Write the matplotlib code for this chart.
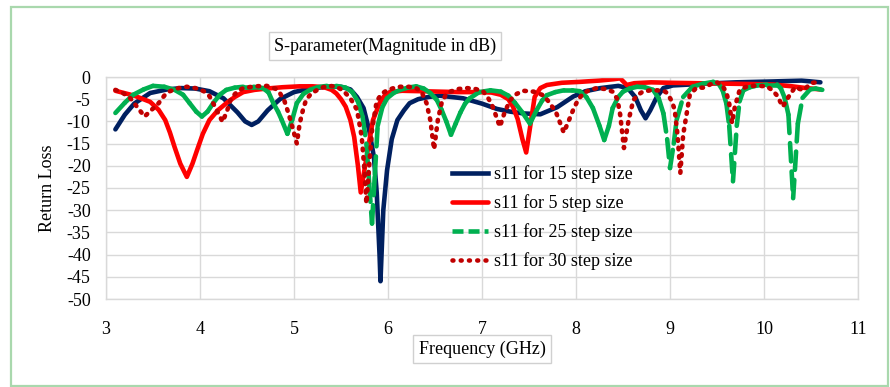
import matplotlib
matplotlib.use("Agg")
import matplotlib.pyplot as plt
from matplotlib.collections import LineCollection
from matplotlib.lines import Line2D
from matplotlib.patches import Rectangle
import numpy as np

plt.rcParams["font.family"] = ["Liberation Serif", "DejaVu Serif"]
plt.rcParams["axes.unicode_minus"] = False

# s11 for 15 step size
BLUE_F = [3.10, 3.20, 3.30, 3.47, 3.65, 3.80, 3.95, 4.10, 4.25, 4.40, 4.48, 4.55,
          4.62, 4.72, 4.85, 5.00, 5.17, 5.35, 5.50, 5.60, 5.67, 5.74, 5.80, 5.85,
          5.88, 5.91, 5.92, 5.935, 5.95, 5.99, 6.04, 6.10, 6.17, 6.23, 6.32, 6.43,
          6.55, 6.80, 7.00, 7.16, 7.30, 7.44, 7.62, 7.80, 7.97, 8.10, 8.26, 8.45,
          8.55, 8.63, 8.69, 8.74, 8.79, 8.86, 8.93, 9.03, 9.38, 9.70, 10.10, 10.40,
          10.60]
BLUE_DB = [-11.8, -8.5, -6.0, -3.6, -2.8, -2.5, -2.6, -3.2, -4.8, -8.0, -10.0, -10.8,
           -10.0, -7.5, -5.0, -3.4, -2.6, -2.2, -2.2, -2.8, -4.5, -7.0, -12.0, -18.0,
           -26.0, -40.0, -46.0, -38.0, -30.0, -21.0, -14.0, -9.7, -7.5, -5.9, -5.0, -4.5,
           -4.2, -4.8, -6.0, -7.2, -7.8, -8.2, -8.4, -6.8, -4.4, -3.2, -2.5, -2.0,
           -2.5, -4.5, -7.5, -9.3, -7.5, -4.5, -2.5, -1.9, -1.5, -1.2, -1.0, -0.8,
           -1.2]

# s11 for 5 step size
RED_F = [3.10, 3.30, 3.47, 3.56, 3.63, 3.68, 3.73, 3.79, 3.86, 3.92, 3.97, 4.03,
         4.10, 4.19, 4.28, 4.37, 4.46, 4.58, 4.71, 4.88, 5.06, 5.20, 5.32, 5.40,
         5.45, 5.50, 5.55, 5.60, 5.64, 5.68, 5.71, 5.745, 5.78, 5.84, 5.91, 5.96,
         6.02, 6.15, 6.35, 6.55, 6.75, 6.95, 7.10, 7.20, 7.28, 7.33, 7.38, 7.43,
         7.47, 7.51, 7.56, 7.62, 7.69, 7.85, 8.04, 8.25, 8.40, 8.47, 8.54, 8.62,
         8.80, 9.00, 9.30, 9.60, 9.90, 10.10, 10.30, 10.45, 10.60]
RED_DB = [-3.1, -4.2, -5.6, -7.4, -9.7, -12.5, -15.8, -19.5, -22.5, -19.5, -16.4, -12.8,
          -9.7, -7.5, -5.9, -4.5, -3.4, -2.9, -2.6, -2.3, -2.1, -2.1, -2.3, -2.9,
          -3.7, -5.0, -6.7, -9.7, -13.5, -20.0, -26.0, -21.5, -17.0, -9.7, -5.9, -4.3,
          -3.4, -3.1, -3.2, -3.3, -3.4, -3.4, -3.5, -4.0, -5.0, -6.7, -9.5, -14.0,
          -17.0, -11.5, -4.5, -2.5, -1.8, -1.3, -1.1, -0.8, -0.5, -0.3, -1.8, -1.4,
          -1.2, -1.3, -1.4, -1.5, -1.6, -1.7, -2.1, -2.5, -2.8]

# s11 for 25 step size
GREEN_F = [3.10, 3.20, 3.29, 3.40, 3.50, 3.62, 3.73, 3.82, 3.89, 3.96, 4.02, 4.08,
           4.14, 4.21, 4.28, 4.37, 4.46, 4.57, 4.67, 4.73, 4.78, 4.83, 4.87, 4.93,
           4.98, 5.03, 5.10, 5.17, 5.25, 5.35, 5.45, 5.55, 5.62, 5.68, 5.73, 5.77,
           5.80, 5.83, 5.86, 5.89, 5.94, 5.99, 6.06, 6.13, 6.21, 6.30, 6.38, 6.45,
           6.52, 6.57, 6.62, 6.67, 6.72, 6.77, 6.82, 6.87, 6.97, 7.09, 7.20, 7.28,
           7.35, 7.43, 7.51, 7.58, 7.64, 7.69, 7.78, 7.87, 7.96, 8.04, 8.11, 8.18,
           8.25, 8.30, 8.35, 8.39, 8.45, 8.50, 8.57, 8.65, 8.73, 8.82, 8.88, 8.93,
           8.97, 9.00, 9.04, 9.07, 9.14, 9.24, 9.35, 9.46, 9.52, 9.56, 9.60, 9.63,
           9.67, 9.71, 9.74, 9.78, 9.85, 9.93, 10.03, 10.14, 10.18, 10.22, 10.26, 10.31,
           10.36, 10.41, 10.49, 10.55, 10.62]
GREEN_DB = [-8.1, -5.8, -4.0, -2.8, -2.0, -2.2, -2.9, -4.0, -5.9, -7.8, -8.9, -7.8,
            -5.9, -4.0, -2.9, -2.4, -2.2, -2.2, -2.5, -3.5, -5.9, -7.8, -9.7, -12.8,
            -9.7, -5.9, -3.8, -2.9, -2.3, -2.0, -2.0, -2.4, -3.4, -5.5, -9.0, -15.0,
            -24.0, -33.0, -22.0, -11.0, -6.8, -4.8, -3.6, -2.9, -2.4, -2.1, -2.6, -3.6,
            -5.2, -7.4, -10.0, -13.0, -10.5, -8.0, -6.0, -4.8, -3.4, -3.0, -3.3, -4.2,
            -5.8, -8.0, -10.5, -7.5, -5.3, -4.1, -3.4, -3.0, -3.0, -3.2, -4.5, -7.0,
            -11.0, -14.2, -11.0, -7.0, -4.5, -3.3, -2.6, -2.2, -2.3, -2.9, -4.8, -8.2,
            -14.0, -20.5, -15.0, -9.7, -4.5, -2.2, -1.5, -1.1, -1.6, -3.0, -6.0, -11.0,
            -23.5, -11.0, -5.5, -3.0, -2.3, -1.9, -1.7, -1.7, -2.6, -4.7, -8.5, -27.3,
            -10.5, -4.7, -2.8, -2.6, -2.9]

# s11 for 30 step size
DRED_F = [3.10, 3.18, 3.26, 3.34, 3.41, 3.48, 3.56, 3.62, 3.68, 3.77, 3.86, 3.95,
          4.04, 4.10, 4.14, 4.19, 4.24, 4.29, 4.33, 4.40, 4.46, 4.58, 4.71, 4.80,
          4.85, 4.90, 4.94, 4.99, 5.03, 5.06, 5.10, 5.13, 5.18, 5.24, 5.31, 5.38,
          5.45, 5.52, 5.60, 5.67, 5.72, 5.75, 5.77, 5.80, 5.83, 5.86, 5.88, 5.93,
          5.99, 6.06, 6.13, 6.22, 6.30, 6.36, 6.41, 6.45, 6.49, 6.53, 6.57, 6.61,
          6.66, 6.75, 6.84, 6.93, 7.01, 7.06, 7.11, 7.15, 7.19, 7.24, 7.30, 7.37,
          7.44, 7.55, 7.65, 7.72, 7.79, 7.87, 7.92, 7.97, 8.02, 8.08, 8.15, 8.22,
          8.31, 8.39, 8.44, 8.47, 8.51, 8.56, 8.61, 8.66, 8.71, 8.79, 8.86, 8.93,
          8.97, 9.02, 9.05, 9.08, 9.11, 9.14, 9.18, 9.21, 9.28, 9.35, 9.40, 9.45,
          9.50, 9.56, 9.60, 9.63, 9.66, 9.69, 9.74, 9.80, 9.85, 9.95, 10.03, 10.09,
          10.14, 10.20, 10.26, 10.33, 10.38, 10.42, 10.47, 10.52, 10.56, 10.60]
DRED_DB = [-2.9, -3.6, -4.8, -7.0, -8.9, -7.5, -5.9, -4.2, -3.2, -2.5, -2.2, -2.5,
           -3.2, -4.3, -5.9, -8.0, -10.1, -7.5, -4.8, -3.2, -2.5, -2.1, -2.0, -2.6,
           -3.6, -5.5, -8.1, -11.8, -15.0, -10.5, -7.0, -5.1, -3.8, -3.0, -2.3, -2.0,
           -2.2, -3.0, -4.8, -7.4, -13.4, -21.0, -28.5, -20.0, -12.0, -8.0, -5.5, -3.8,
           -3.0, -2.5, -2.2, -2.2, -2.5, -3.5, -5.9, -9.7, -16.3, -9.7, -5.9, -4.2,
           -3.3, -2.7, -2.5, -2.7, -3.2, -4.5, -6.5, -8.8, -11.2, -8.0, -5.2, -3.8,
           -3.1, -3.3, -4.1, -5.8, -8.1, -12.5, -10.0, -7.4, -5.2, -3.6, -2.9, -2.5,
           -2.7, -3.3, -5.0, -8.5, -16.0, -9.7, -5.2, -4.0, -3.3, -3.0, -3.0, -3.1,
           -3.6, -5.5, -7.4, -13.0, -21.6, -13.0, -7.9, -4.1, -2.4, -2.4, -2.0, -1.4,
           -1.2, -2.0, -3.5, -6.0, -10.4, -6.7, -3.0, -2.3, -2.0, -2.0, -2.1, -3.0,
           -4.2, -6.7, -4.5, -2.3, -2.7, -3.0, -2.0, -1.3, -1.2, -1.8]

LABELS = ["s11 for 15 step size", "s11 for 5 step size",
          "s11 for 25 step size", "s11 for 30 step size"]
X_TICKS = [3, 4, 5, 6, 7, 8, 9, 10, 11]
Y_TICKS = [0, -5, -10, -15, -20, -25, -30, -35, -40, -45, -50]

C_BLUE, C_RED, C_GREEN, C_DRED = "#002060", "#ff0000", "#00b050", "#c00000"
LW = 3.3
GREEN_DASH = (0, (4.0, 2.2))
DOT = (0, (0.35, 1.5))

fig = plt.figure(figsize=(8.9, 3.87), dpi=100)
fig.patches.append(Rectangle((11 / 890, 1 / 387), 877 / 890, 379 / 387,
                             transform=fig.transFigure, fill=False,
                             edgecolor="#a9d8ad", linewidth=1.6))

ax = fig.add_axes([106 / 890, 1 - 299 / 387, 752 / 890, 222 / 387])
ax.set_xlim(3, 11)
ax.set_ylim(-50, 0)
ax.set_xticks(X_TICKS)
ax.set_yticks(Y_TICKS)
ax.grid(True, color="#d9d9d9", linewidth=1.0)
ax.set_axisbelow(True)
for sp in ax.spines.values():
    sp.set_color("#d9d9d9")
    sp.set_linewidth(1.0)
ax.tick_params(length=0, labelsize=13)
ax.tick_params(axis="x", pad=16)
ax.tick_params(axis="y", pad=11)

ax.plot(BLUE_F, BLUE_DB, color=C_BLUE, lw=LW, solid_capstyle="round",
        solid_joinstyle="round")
ax.plot(RED_F, RED_DB, color=C_RED, lw=LW, solid_capstyle="round",
        solid_joinstyle="round")
# green: dash pattern restarts on every segment, like the source chart
pts = np.column_stack([GREEN_F, GREEN_DB])
segs = np.stack([pts[:-1], pts[1:]], axis=1)
ax.add_collection(LineCollection(segs, colors=C_GREEN, linewidths=LW,
                                 linestyles=[GREEN_DASH], capstyle="round",
                                 joinstyle="round"))
ax.plot(DRED_F, DRED_DB, color=C_DRED, lw=LW, linestyle=DOT,
        dash_capstyle="round")

handles = [
    Line2D([], [], color=C_BLUE, lw=LW),
    Line2D([], [], color=C_RED, lw=LW, solid_capstyle="round"),
    Line2D([], [], color=C_GREEN, lw=LW, linestyle=(0, (2.4, 1.1))),
    Line2D([], [], color=C_DRED, lw=LW, linestyle=(0, (0.2, 1.6)),
           dash_capstyle="round"),
]
ax.legend(handles, LABELS, loc="upper left", bbox_to_anchor=(452 / 890, 1 - 165 / 387),
          bbox_transform=fig.transFigure, frameon=False, fontsize=13,
          handlelength=2.0, handletextpad=0.3, labelspacing=0.62, borderpad=0,
          borderaxespad=0)

box = dict(boxstyle="square,pad=0.3", facecolor="white", edgecolor="#d0d0d0",
           linewidth=1.0)
fig.text(385 / 890, 1 - 46 / 387, "S-parameter(Magnitude in dB)", ha="center",
         va="center", fontsize=13, bbox=box)
fig.text(482 / 890, 1 - 349 / 387, "Frequency (GHz)", ha="center", va="center",
         fontsize=13, bbox=box)
fig.text(47 / 890, 1 - 188 / 387, "Return Loss", ha="center", va="center",
         rotation=90, fontsize=13)

fig.savefig("out.png", dpi=100)
